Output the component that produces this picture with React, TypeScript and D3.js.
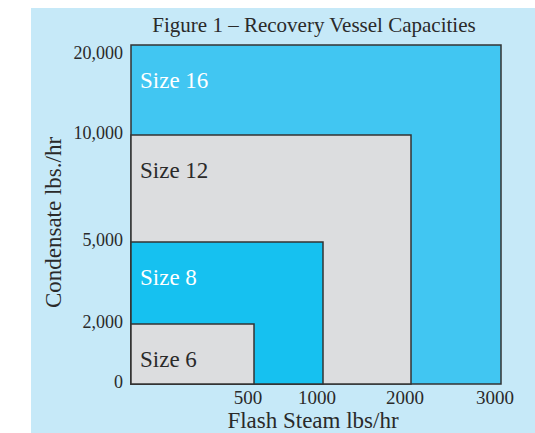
import React from "react";
import * as d3 from "d3";

// ---- Data ----
const sizeLabels = ["Size 16", "Size 12", "Size 8", "Size 6"];
const flashSteamMax = [3000, 2000, 1000, 500]; // lbs/hr
const condensateMax = [20000, 10000, 5000, 2000]; // lbs/hr
const xTickValues = [500, 1000, 2000, 3000];
const yTickValues = [0, 2000, 5000, 10000, 20000];
const titleText = "Figure 1 \u2013 Recovery Vessel Capacities";
const xTitle = "Flash Steam lbs/hr";
const yTitle = "Condensate lbs./hr";

// ---- Styles ----
const fills = ["#41C6F2", "#DCDDDF", "#16C1F0", "#DCDDDF"];
const labelColors = ["#ffffff", "#2a2a2a", "#ffffff", "#2a2a2a"];
const W = 535;
const H = 433;
const panel = { x: 31, y: 8 };
const plot = { left: 131, right: 501, top: 45, bottom: 384 };
const FONT = "'Liberation Serif', 'Times New Roman', serif";
const TEXT = "#2a2a2a";

// piecewise (non-uniform) scales, as in the original figure
const x = d3
  .scaleLinear()
  .domain([0, 500, 1000, 2000, 3000])
  .range([plot.left, 254, 323, 411, plot.right]);
const y = d3
  .scaleLinear()
  .domain([0, 2000, 5000, 10000, 20000])
  .range([plot.bottom, 324, 242, 135, plot.top]);

export default function App() {
  return (
    <svg
      width={W}
      height={H}
      style={{ position: "absolute", left: 0, top: 0, display: "block" }}
      fontFamily={FONT}
    >
      <rect x={0} y={0} width={W} height={H} fill="#ffffff" />
      <rect x={panel.x} y={panel.y} width={W - panel.x} height={H - panel.y} fill="#C6E9F8" />

      <text x={314} y={32} textAnchor="middle" fontSize={21} fill={TEXT}>
        {titleText}
      </text>

      {sizeLabels.map((s, i) => (
        <g key={s}>
          <rect
            x={x(0)}
            y={y(condensateMax[i])}
            width={x(flashSteamMax[i]) - x(0)}
            height={y(0) - y(condensateMax[i])}
            fill={fills[i]}
            stroke="#333333"
            strokeWidth={1.5}
          />
          <text
            x={x(0) + 9}
            y={y(condensateMax[i]) + 43}
            fontSize={23}
            fill={labelColors[i]}
          >
            {s}
          </text>
        </g>
      ))}

      {yTickValues.map((v) => (
        <text
          key={"y" + v}
          x={plot.left - 8}
          y={Math.max(y(v) - 2, plot.top + 8) + 6}
          textAnchor="end"
          fontSize={18}
          fill={TEXT}
        >
          {d3.format(",")(v)}
        </text>
      ))}

      {xTickValues.map((v) => (
        <text
          key={"x" + v}
          x={x(v) - 6}
          y={404}
          textAnchor="middle"
          fontSize={19}
          fill={TEXT}
        >
          {v}
        </text>
      ))}

      <text x={313} y={428} textAnchor="middle" fontSize={23} fill={TEXT}>
        {xTitle}
      </text>
      <text
        transform={`translate(61, ${(plot.top + plot.bottom) / 2 + 8}) rotate(-90)`}
        textAnchor="middle"
        fontSize={23}
        fill={TEXT}
      >
        {yTitle}
      </text>
    </svg>
  );
}
